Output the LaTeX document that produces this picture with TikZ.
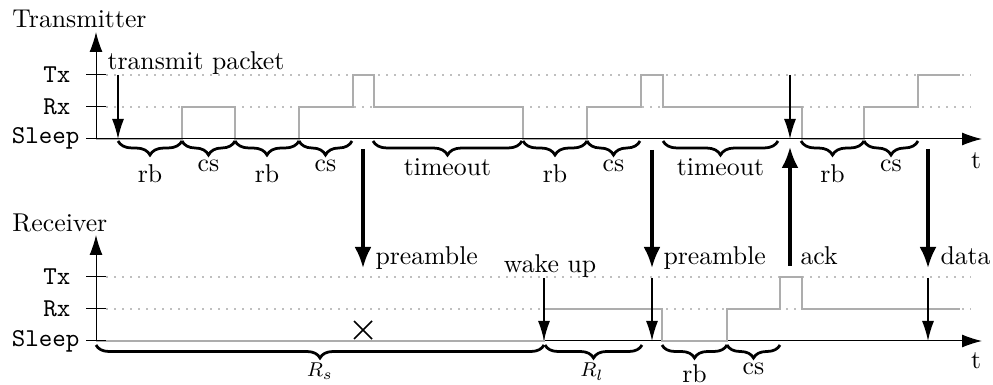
\documentclass[tikz,border=0pt]{standalone}
\usetikzlibrary{arrows.meta,decorations.pathreplacing}
\begin{document}
\begin{tikzpicture}[x=0.4pt,y=-0.4pt,
  font=\fontsize{10.3pt}{12.4pt}\selectfont,
  sig/.style={draw=black!32, line width=0.9pt},
  gridline/.style={draw=black!25, line width=0.6pt, dash pattern=on 0.8pt off 2.4pt},
  axisline/.style={line width=0.4pt, -{Latex[length=8pt,width=5.2pt]}},
  thinarr/.style={line width=0.6pt, -{Latex[length=8pt,width=4.8pt]}},
  thickarr/.style={line width=1.3pt, -{Latex[length=8.4pt,width=6.8pt]}},
  brc/.style={decorate, decoration={brace,mirror,amplitude=5.6pt}, line width=1.1pt},
  brcr/.style={decorate, decoration={brace,mirror,amplitude=5.2pt}, line width=1.1pt},
  lbl/.style={anchor=base, inner sep=0pt},
  lblw/.style={anchor=base west, inner sep=0pt},
  ticklbl/.style={anchor=base east, inner sep=0pt, font=\fontsize{10.3pt}{12.4pt}\selectfont\ttfamily}]
\useasboundingbox (0,0) rectangle (993,385);

% ---------------- Transmitter ----------------
\node[lblw] (ttitle) at (12,28) {Transmitter};
\coordinate (tO) at (96,139);
\coordinate (tY) at (96,32);
\coordinate (tX) at (982,139);
\foreach \yy in {75,107} \draw[gridline] (106,\yy) -- (971,\yy);
\draw[sig] (96,139) -- (182,139) -- (182,107) -- (235,107) -- (235,139) -- (299,139)
  -- (299,107) -- (353,107) -- (353,75) -- (374,75) -- (374,107) -- (523,107)
  -- (523,139) -- (587,139) -- (587,107) -- (641,107) -- (641,75) -- (663,75)
  -- (663,107) -- (802,107) -- (802,139) -- (864,139) -- (864,107) -- (918,107)
  -- (918,75) -- (960,75);
\draw[axisline] (tO) -- (tY);
\draw[axisline] (tO) -- (tX);
\foreach \yy in {75,107,139} \draw[line width=0.4pt] (86,\yy) -- (106,\yy);
\node[ticklbl] (tTx) at (71,82.5) {Tx};
\node[ticklbl] (tRx) at (71,114.5) {Rx};
\node[ticklbl] (tSl) at (80,144) {Sleep};
\node[lbl] (tt) at (976,169) {t};

% braces transmitter
\draw[brc] (118,141) -- (182,141);
\draw[brc] (182,141) -- (235,141);
\draw[brc] (235,141) -- (299,141);
\draw[brc] (299,141) -- (352,141);
\draw[brc] (373,141) -- (522,141);
\draw[brc] (523,141) -- (587,141);
\draw[brc] (587,141) -- (640,141);
\draw[brc] (663,141) -- (778,141);
\draw[brc] (801,141) -- (864,141);
\draw[brc] (864,141) -- (918,141);
\node[lbl] (b1) at (150,183) {rb};
\node[lbl] (b2) at (208.5,172) {cs};
\node[lbl] (b3) at (267,183) {rb};
\node[lbl] (b4) at (325.5,172) {cs};
\node[lbl] (b5) at (447.5,175.5) {timeout};
\node[lbl] (b6) at (555,183) {rb};
\node[lbl] (b7) at (613.5,172) {cs};
\node[lbl] (b8) at (720.5,175.5) {timeout};
\node[lbl] (b9) at (832.5,183) {rb};
\node[lbl] (b10) at (891,172) {cs};

% transmit packet
\node[lblw] (tp) at (107,70) {transmit packet};
\coordinate (tpA) at (118,75);
\coordinate (tpB) at (118,139);
\draw[thinarr] (tpA) -- (tpB);
\coordinate (ackA) at (790,75);
\coordinate (ackB) at (790,139);
\draw[thinarr] (ackA) -- (ackB);

% ---------------- Receiver ----------------
\node[lblw] (rtitle) at (12,232) {Receiver};
\coordinate (rO) at (96,341);
\coordinate (rY) at (96,235);
\coordinate (rX) at (982,341);
\foreach \yy in {277,309} \draw[gridline] (106,\yy) -- (971,\yy);
\draw[axisline] (rO) -- (rY);
\draw[axisline] (rO) -- (rX);
\draw[sig] (96,341) -- (544,341) -- (544,309) -- (662,309) -- (662,341) -- (727,341)
  -- (727,309) -- (780,309) -- (780,277) -- (802,277) -- (802,309) -- (960,309);
\foreach \yy in {277,309,341} \draw[line width=0.4pt] (86,\yy) -- (106,\yy);
\node[ticklbl] (rTx) at (71,284.5) {Tx};
\node[ticklbl] (rRx) at (71,316.5) {Rx};
\node[ticklbl] (rSl) at (80,346) {Sleep};
\node[lbl] (rt) at (976,368) {t};

\draw[line width=0.7pt] (354,321) -- (372,339) (354,339) -- (372,321);

\draw[brcr] (96,345) -- (544,345);
\draw[brcr] (545,345) -- (642,345);
\draw[brcr] (662,345) -- (727,345);
\draw[brcr] (727,345) -- (780,345);
\node[lbl,font=\footnotesize] (rs) at (320,377) {$R_s$};
\node[lbl,font=\footnotesize] (rl) at (592,377) {$R_l$};
\node[lbl] (rb) at (694.5,382) {rb};
\node[lbl] (rc) at (753.5,374) {cs};

% messages
\coordinate (p1A) at (363,149);
\coordinate (p1B) at (363,268);
\draw[thickarr] (p1A) -- (p1B);
\node[lblw] (p1) at (375,265) {preamble};
\coordinate (p2A) at (652,150);
\coordinate (p2B) at (652,268);
\draw[thickarr] (p2A) -- (p2B);
\node[lblw] (p2) at (663,265) {preamble};
\coordinate (akA) at (790,266);
\coordinate (akB) at (790,147);
\draw[thickarr] (akA) -- (akB);
\node[lblw] (ak) at (800,265) {ack};
\coordinate (dA) at (928,149);
\coordinate (dB) at (928,268);
\draw[thickarr] (dA) -- (dB);
\node[lblw] (da) at (940,265) {data};

\node[lbl] (wu) at (550,273) {wake up};
\coordinate (wuA) at (544,278);
\coordinate (wuB) at (544,341);
\draw[thinarr] (wuA) -- (wuB);
\coordinate (p2C) at (652,278);
\coordinate (p2D) at (652,341);
\draw[thinarr] (p2C) -- (p2D);
\coordinate (dC) at (928,278);
\coordinate (dD) at (928,341);
\draw[thinarr] (dC) -- (dD);
\end{tikzpicture}
\end{document}
